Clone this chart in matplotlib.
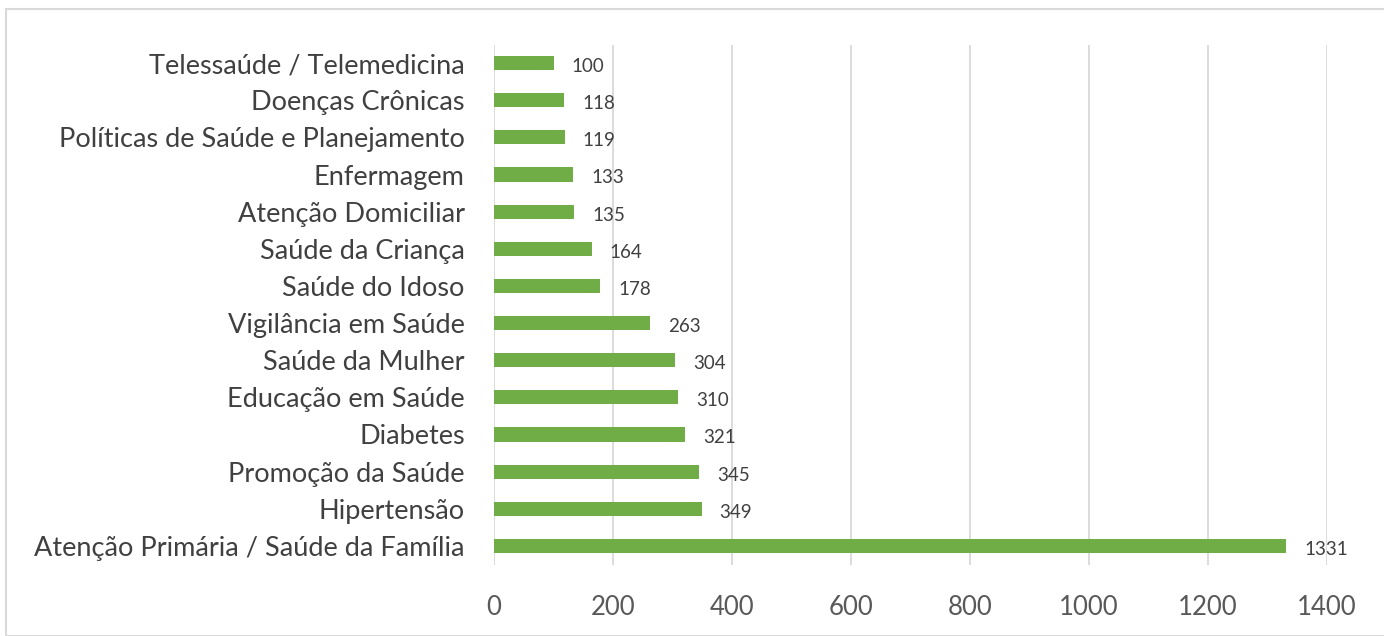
import matplotlib
matplotlib.use("Agg")
import matplotlib.pyplot as plt
from matplotlib.patches import Rectangle

categories = [
    "Atenção Primária / Saúde da Família",
    "Hipertensão",
    "Promoção da Saúde",
    "Diabetes",
    "Educação em Saúde",
    "Saúde da Mulher",
    "Vigilância em Saúde",
    "Saúde do Idoso",
    "Saúde da Criança",
    "Atenção Domiciliar",
    "Enfermagem",
    "Políticas de Saúde e Planejamento",
    "Doenças Crônicas",
    "Telessaúde / Telemedicina",
]
values = [1331, 349, 345, 321, 310, 304, 263, 178, 164, 135, 133, 119, 118, 100]
xticks = [0, 200, 400, 600, 800, 1000, 1200, 1400]

plt.rcParams['font.family'] = ['Lato', 'DejaVu Sans']

fig = plt.figure(figsize=(13.84, 6.36), dpi=100)
ax = fig.add_axes([494/1384, 1-564.5/636, (1327-494)/1384, (564.5-44.5)/636])

y = list(range(len(categories)))
ax.barh(y, values, height=0.38, color="#70AD47", zorder=3)
for yi, v in zip(y, values):
    ax.annotate(str(v), (v, yi), xytext=(13, -2.5), textcoords="offset points",
                va="center", ha="left", fontsize=13.5, color="#404040")

ax.set_xlim(0, 1400)
ax.set_ylim(-0.5, len(categories) - 0.5)
ax.set_xticks(xticks)
ax.set_yticks(y)
ax.set_yticklabels(categories)
ax.grid(axis="x", color="#D9D9D9", linewidth=1.3, zorder=0)
for s in ax.spines.values():
    s.set_visible(False)
ax.tick_params(axis="both", length=0)
ax.tick_params(axis="y", pad=21, labelsize=19.5, labelcolor="#404040")
ax.tick_params(axis="x", pad=22, labelsize=18.5, labelcolor="#595959")

fig.patches.append(Rectangle((6/1384, 0), 1.0, 1-9/636, transform=fig.transFigure,
                             fill=False, edgecolor="#D9D9D9", linewidth=1.5))

fig.savefig("out.png", dpi=100)
